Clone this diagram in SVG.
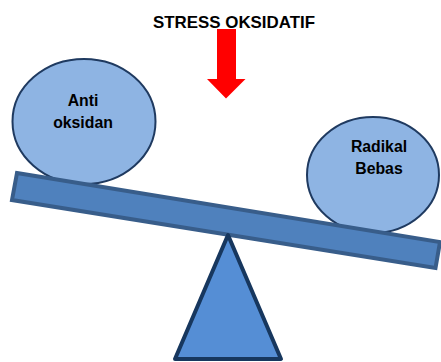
<svg xmlns="http://www.w3.org/2000/svg" width="441" height="362" viewBox="0 0 441 362">
<style>
.lbl{font-family:"Liberation Sans",Arial,sans-serif;font-weight:bold;font-size:15.8px;fill:#000;text-anchor:middle}
.ball{fill:#8EB4E3;stroke:#1F3A60;stroke-width:2}
</style>
<rect width="441" height="362" fill="#fff"/>
<g id="title">
<text x="234" y="27.5" font-family="'Liberation Sans',Arial,sans-serif" font-weight="bold" font-size="16.5" text-anchor="middle" textLength="162" lengthAdjust="spacingAndGlyphs">STRESS OKSIDATIF</text>
</g>
<g id="arrow">
<polygon points="217,29 236,29 236,79 245.5,79 226,98.5 207,79 217,79" fill="#FF0000"/>
</g>
<g id="antioksidan">
<ellipse class="ball" cx="84" cy="121.5" rx="71.5" ry="62.5"/>
<text class="lbl" x="83" y="106">Anti</text>
<text class="lbl" x="83" y="128">oksidan</text>
</g>
<g id="radikal">
<ellipse class="ball" cx="373" cy="175" rx="66" ry="58"/>
<text class="lbl" x="379" y="152">Radikal</text>
<text class="lbl" x="379" y="174">Bebas</text>
</g>
<g id="beam">
<polygon points="17,173 440,242 435.5,268 12,200" fill="#4F81BD" stroke="#385D8A" stroke-width="4"/>
</g>
<g id="fulcrum">
<polygon points="228,235 281,359 175,359" fill="#558ED5" stroke="#17375E" stroke-width="4" stroke-linejoin="round"/>
</g>
</svg>
